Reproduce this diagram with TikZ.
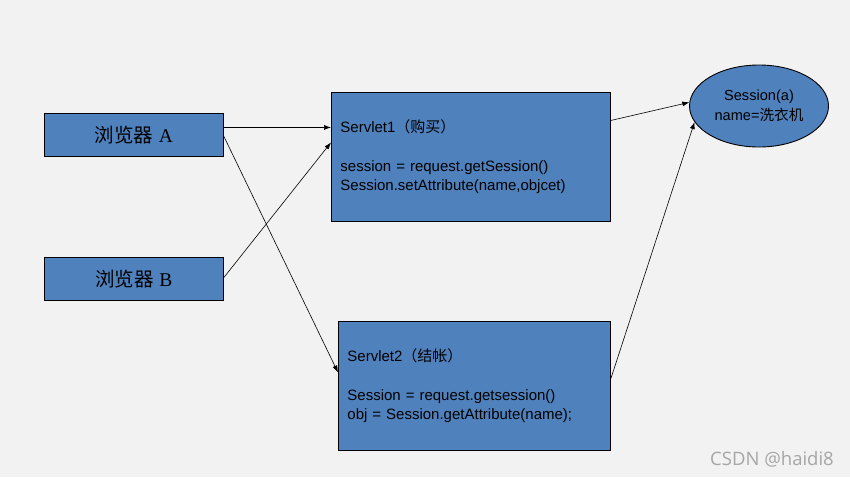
\documentclass[tikz,border=0pt]{standalone}
\usepackage{fontspec}
\setmainfont{Liberation Sans}
\newfontfamily\cjk{Noto Sans CJK SC}
\newfontfamily\serifA{Liberation Serif}
\newfontfamily\wmfont{Open Sans}
\usetikzlibrary{shapes.geometric,arrows.meta,calc}
\definecolor{bgc}{HTML}{F2F2F2}
\definecolor{boxblue}{HTML}{4F81BD}
\definecolor{wmgrey}{HTML}{A6A6A6}
\begin{document}
\begin{tikzpicture}[x=1pt,y=-1pt,
  blk/.style={draw=black, line width=0.9pt, fill=boxblue, inner sep=0pt, anchor=north west},
  browser/.style={blk, minimum width=179pt, minimum height=43pt, font=\fontsize{19.5}{22}\selectfont},
  servlet/.style={blk, minimum height=129pt, align=left, inner xsep=9pt, font=\fontsize{15}{19.3}\selectfont},
  conn/.style={line width=0.6pt, -{Latex[length=7pt,width=5pt]}}]
\fill[bgc] (0,0) rectangle (850,477);
\useasboundingbox (0,0) rectangle (850,477);

\node[browser] (a) at (44,113) {{\cjk 浏览器} {\serifA A}};
\node[browser] (b) at (44,257) {{\cjk 浏览器} {\serifA B}};

\node[servlet, text width=261pt] (s1) at (331,92) {Servlet1{\cjk （购买）}\\[19.3pt]session = request.getSession()\\Session.setAttribute(name,objcet)};
\node[servlet, text width=254pt] (s2) at (338,321) {Servlet2{\cjk （结帐）}\\[19.3pt]Session = request.getsession()\\obj = Session.getAttribute(name);};

\node[ellipse, draw=black, line width=0.9pt, fill=boxblue, minimum width=139pt, minimum height=82pt, inner sep=0pt, align=center, font=\fontsize{14.6}{20}\selectfont] (ses) at (759,106) {Session(a)\\name={\cjk 洗衣机}};

\draw[conn] ([yshift=7.5pt]a.east) -- ([yshift=29.5pt]s1.west);
\draw[conn] ([yshift=-1.5pt]a.east) -- ([yshift=13.5pt]s2.west);
\draw[conn] ([yshift=1.5pt]b.east) -- ([yshift=14.5pt]s1.west);
\draw[conn] ([yshift=36.5pt]s1.east) -- (ses.177);
\draw[conn] ([yshift=7.5pt]s2.east) -- (ses.194);

\node[text=wmgrey, font=\wmfont\fontsize{18.5}{22}\selectfont] (wm) at (772,459) {CSDN @haidi8};
\end{tikzpicture}
\end{document}
